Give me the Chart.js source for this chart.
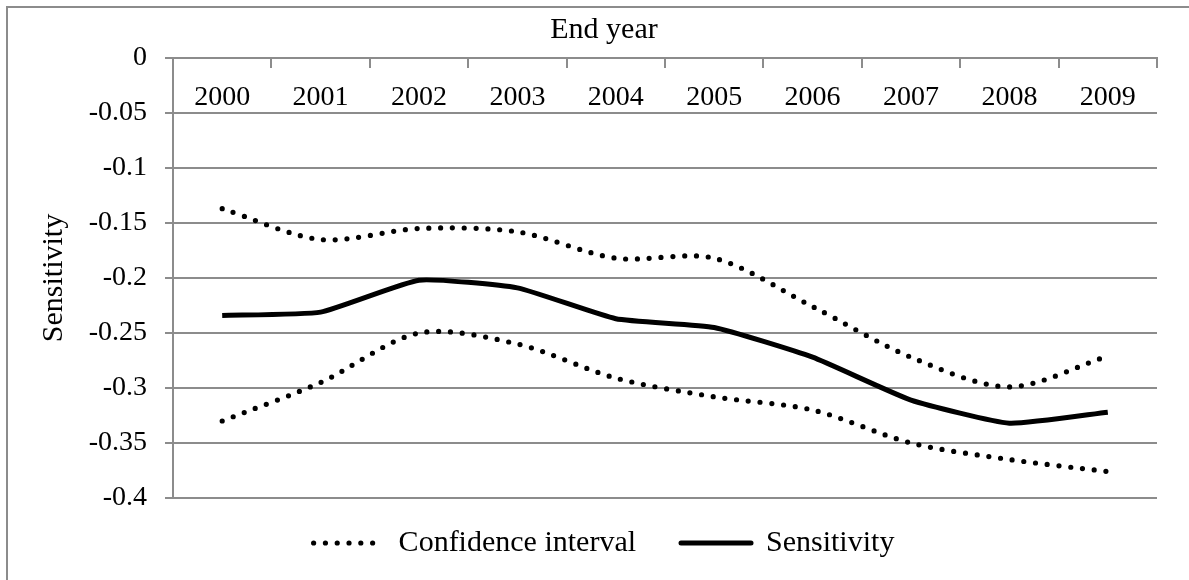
<!DOCTYPE html>
<html lang="en">
<head>
<meta charset="UTF-8">
<title>Sensitivity by end year</title>
<script src="https://cdn.jsdelivr.net/npm/chart.js"></script>
<style>
  html, body { margin: 0; padding: 0; background: #fff; overflow: hidden; }
</style>
</head>
<body>
<canvas id="sensChart" width="1189" height="580"></canvas>
<script>
// values
const years = ['2000', '2001', '2002', '2003', '2004', '2005', '2006', '2007', '2008', '2009'];
const upperCI = [-0.137, -0.165, -0.155, -0.158, -0.182, -0.182, -0.226, -0.272, -0.299, -0.271];
const sensitivity = [-0.234, -0.231, -0.202, -0.209, -0.237, -0.245, -0.272, -0.311, -0.332, -0.322];
const lowerCI = [-0.330, -0.295, -0.250, -0.260, -0.291, -0.308, -0.320, -0.350, -0.365, -0.376];
const yTicks = [-0.4, -0.35, -0.3, -0.25, -0.2, -0.15, -0.1, -0.05, 0];

const gray = '#8c8c8c';
const dots = [0, 11.8];

Chart.defaults.font.family = '"Liberation Serif", "Times New Roman", serif';
Chart.defaults.color = '#000';

// white background and the frame round the whole chart
const framePlugin = {
    id: 'frame',
    beforeDraw(chart) {
        const c = chart.ctx;
        c.save();
        c.fillStyle = '#fff';
        c.fillRect(0, 0, chart.width, chart.height);
        c.strokeStyle = gray;
        c.lineWidth = 2;
        c.strokeRect(7, 7, 1400, 800);
        c.restore();
    }
};

const ctx = document.getElementById('sensChart').getContext('2d');
const sensChart = new Chart(ctx, {
    type: 'line',
    data: {
        labels: years,
        datasets: [{
            label: 'Confidence interval',
            data: upperCI,
            borderColor: '#000',
            borderWidth: 5.2,
            borderDash: dots,
            borderCapStyle: 'round',
            tension: 0.3
        }, {
            label: 'Confidence interval (lower)',
            data: lowerCI,
            borderColor: '#000',
            borderWidth: 5.2,
            borderDash: dots,
            borderCapStyle: 'round',
            tension: 0.3
        }, {
            label: 'Sensitivity',
            data: sensitivity,
            borderColor: '#000',
            borderWidth: 5,
            borderJoinStyle: 'round',
            tension: 0.15
        }]
    },
    options: {
        responsive: false,
        animation: false,
        events: [],
        elements: { point: { radius: 0 } },
        layout: { padding: { left: 30, right: 11, top: 6, bottom: 12 } },
        plugins: {
            title: {
                display: true,
                text: 'End year',
                font: { size: 30, weight: 'normal' },
                color: '#000',
                padding: { top: 6, bottom: 10 }
            },
            legend: {
                position: 'bottom',
                labels: {
                    usePointStyle: true,
                    pointStyleWidth: 70,
                    padding: 30,
                    font: { size: 30 },
                    generateLabels: () => [{
                        text: 'Confidence interval  ',
                        fillStyle: 'transparent',
                        strokeStyle: '#000',
                        lineWidth: 5.2,
                        lineDash: dots,
                        lineCap: 'round',
                        pointStyle: 'line',
                        datasetIndex: 0
                    }, {
                        text: 'Sensitivity',
                        fillStyle: 'transparent',
                        strokeStyle: '#000',
                        lineWidth: 5,
                        lineCap: 'round',
                        pointStyle: 'line',
                        datasetIndex: 2
                    }]
                }
            },
            tooltip: { enabled: false }
        },
        scales: {
            x: {
                type: 'category',
                position: { y: 0 },
                offset: true,
                grid: {
                    offset: true,
                    drawOnChartArea: false,
                    tickLength: 9,
                    color: gray,
                    lineWidth: 2
                },
                border: { color: gray, width: 2 },
                ticks: { font: { size: 28 }, padding: 14, maxRotation: 0, autoSkip: false }
            },
            y: {
                min: -0.4,
                max: 0,
                grid: { color: gray, lineWidth: 2, tickLength: 8 },
                border: { color: gray, width: 2 },
                ticks: {
                    font: { size: 28 },
                    padding: 18,
                    callback: v => String(v)
                },
                afterBuildTicks: s => { s.ticks = yTicks.map(v => ({ value: v })); },
                afterFit: s => { s.width = 143; },
                title: {
                    display: true,
                    text: 'Sensitivity',
                    font: { size: 30 },
                    padding: { top: 6, bottom: 4 }
                }
            },
            // empty right axis, only keeps room so the titles centre like the original
            y2: {
                position: 'right',
                display: true,
                grid: { display: false },
                border: { display: false },
                ticks: { display: false },
                afterFit: s => { s.width = 21; }
            }
        }
    },
    plugins: [framePlugin]
});
</script>
</body>
</html>
